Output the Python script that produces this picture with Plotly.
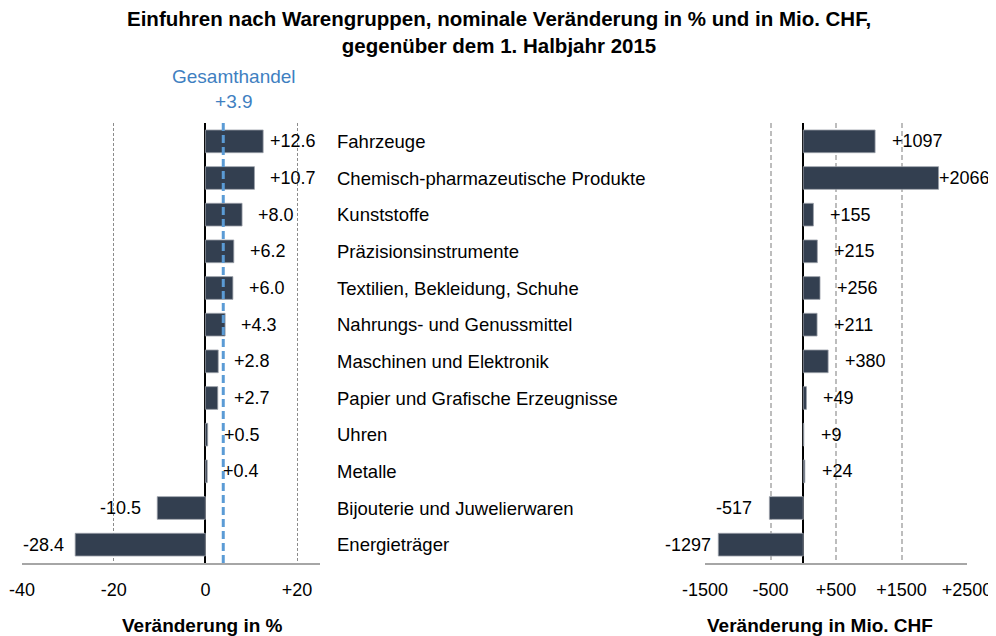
import plotly.graph_objects as go

categories = [
    "Fahrzeuge",
    "Chemisch-pharmazeutische Produkte",
    "Kunststoffe",
    "Präzisionsinstrumente",
    "Textilien, Bekleidung, Schuhe",
    "Nahrungs- und Genussmittel",
    "Maschinen und Elektronik",
    "Papier und Grafische Erzeugnisse",
    "Uhren",
    "Metalle",
    "Bijouterie und Juwelierwaren",
    "Energieträger",
]
change_pct = [12.6, 10.7, 8.0, 6.2, 6.0, 4.3, 2.8, 2.7, 0.5, 0.4, -10.5, -28.4]
change_mio = [1097, 2066, 155, 215, 256, 211, 380, 49, 9, 24, -517, -1297]
total_pct = 3.9

left_ticks = [-40, -20, 0, 20]
left_ticktext = ["-40", "-20", "0", "+20"]
right_ticks = [-1500, -500, 500, 1500, 2500]
right_ticktext = ["-1500", "-500", "+500", "+1500", "+2500"]

W, H = 996, 636
OFF = 8  # page body margin
FONT = "Liberation Sans, Arial, Helvetica, sans-serif"
BAR = "#333f50"
LBL = 18

LEFT_DOM, LEFT_RNG = (22, 320), (-40, 25)
RIGHT_DOM, RIGHT_RNG = (705, 967), (-1500, 2500)


def px(x):
    return (x - OFF) / W


def py(y):
    return 1 - (y - OFF) / H


CW = {"+": 0.584, "-": 0.333, ".": 0.278}


def textw(t, size=LBL):
    return sum(CW.get(ch, 0.556) for ch in t) * size


def label(v, text, dom, rng, gap, lo, hi, xref):
    # keep data labels inside the chart area, like the original
    p = dom[0] + (v - rng[0]) / (rng[1] - rng[0]) * (dom[1] - dom[0])
    w = textw(text)
    if v >= 0:
        start = min(p + gap, hi - w)
        return dict(x=v, xref=xref, xanchor="left", xshift=start - p - 2)
    end = max(p - gap, lo + w)
    return dict(x=v, xref=xref, xanchor="right", xshift=end - p + 2)


fig = go.Figure()
fig.add_trace(go.Bar(
    x=change_pct, y=categories, orientation="h", xaxis="x", yaxis="y",
    marker=dict(color=BAR, line=dict(color="#9aa0a8", width=0.8)),
    width=0.62, showlegend=False, hoverinfo="x+y",
))
fig.add_trace(go.Bar(
    x=change_mio, y=categories, orientation="h", xaxis="x2", yaxis="y",
    marker=dict(color=BAR, line=dict(color="#9aa0a8", width=0.8)),
    width=0.62, showlegend=False, hoverinfo="x+y",
))

ann = []
for c, v in zip(categories, change_pct):
    t = f"{v:+.1f}"
    a = label(v, t, LEFT_DOM, LEFT_RNG, 16, 23, 316, "x")
    a.update(y=c, yref="y", text=t, showarrow=False,
             font=dict(family=FONT, size=LBL, color="black"))
    ann.append(a)
for c, v in zip(categories, change_mio):
    t = f"{v:+d}"
    a = label(v, t, RIGHT_DOM, RIGHT_RNG, 17, 665, 990, "x2")
    a.update(y=c, yref="y", text=t, showarrow=False,
             font=dict(family=FONT, size=LBL, color="black"))
    ann.append(a)
for c in categories:
    ann.append(dict(x=px(335), y=c, xref="paper", yref="y", text=c,
                    xanchor="left", showarrow=False,
                    font=dict(family=FONT, size=18.5, color="black")))

ann.append(dict(x=total_pct, y=py(114), xref="x", yref="paper",
                text=f"Gesamthandel<br>{total_pct:+.1f}", xanchor="center",
                yanchor="bottom", xshift=11, showarrow=False,
                font=dict(family=FONT, size=19, color="#3f7fc1")))
ann.append(dict(x=px(202), y=py(625), xref="paper", yref="paper",
                text="<b>Veränderung in %</b>", showarrow=False,
                xanchor="center", yanchor="middle",
                font=dict(family=FONT, size=19, color="black")))
ann.append(dict(x=px(820), y=py(625), xref="paper", yref="paper",
                text="<b>Veränderung in Mio. CHF</b>", showarrow=False,
                xanchor="center", yanchor="middle",
                font=dict(family=FONT, size=19, color="black")))
ann.append(dict(x=px(499), y=py(32), xref="paper", yref="paper",
                text="<b>Einfuhren nach Warengruppen, nominale Veränderung in % und in Mio. CHF,</b><br><b>gegenüber dem 1. Halbjahr 2015</b>",
                showarrow=False, xanchor="center", yanchor="middle",
                font=dict(family=FONT, size=20.5, color="black")))

shapes = [dict(type="line", xref="x", yref="paper", x0=total_pct, x1=total_pct,
               y0=py(563), y1=py(121),
               line=dict(color="#5b9bd5", width=3, dash="8px,4px"), layer="above")]

fig.update_layout(
    width=W, height=H,
    margin=dict(l=0, r=0, t=0, b=0, autoexpand=False),
    paper_bgcolor="white", plot_bgcolor="white",
    xaxis=dict(domain=[px(LEFT_DOM[0]), px(LEFT_DOM[1])], range=list(LEFT_RNG), anchor="y",
               tickvals=left_ticks, ticktext=left_ticktext, ticks="",
               ticklabelstandoff=9,
               showgrid=True, gridcolor="#8c8c8c", gridwidth=1, griddash="3px,2px",
               zeroline=True, zerolinecolor="black", zerolinewidth=1.5,
               showline=True, linecolor="#a6a6a6", linewidth=2,
               tickfont=dict(family=FONT, size=18, color="black"),
               automargin=False, fixedrange=True),
    xaxis2=dict(domain=[px(RIGHT_DOM[0]), px(RIGHT_DOM[1])], range=list(RIGHT_RNG), anchor="y",
                tickvals=right_ticks, ticktext=right_ticktext, ticks="",
                ticklabelstandoff=9,
                showgrid=True, gridcolor="#bdbdbd", gridwidth=2, griddash="5px,3px",
                zeroline=True, zerolinecolor="black", zerolinewidth=1.5,
                showline=True, linecolor="#a6a6a6", linewidth=2,
                tickfont=dict(family=FONT, size=18, color="black"),
                automargin=False, fixedrange=True),
    yaxis=dict(domain=[py(563), py(123)], categoryorder="array",
               categoryarray=categories, autorange="reversed",
               showticklabels=False, showgrid=False, zeroline=False,
               showline=False, ticks="", automargin=False, fixedrange=True),
    annotations=ann, shapes=shapes, bargap=0.38,
)

fig.write_html("out.html")
